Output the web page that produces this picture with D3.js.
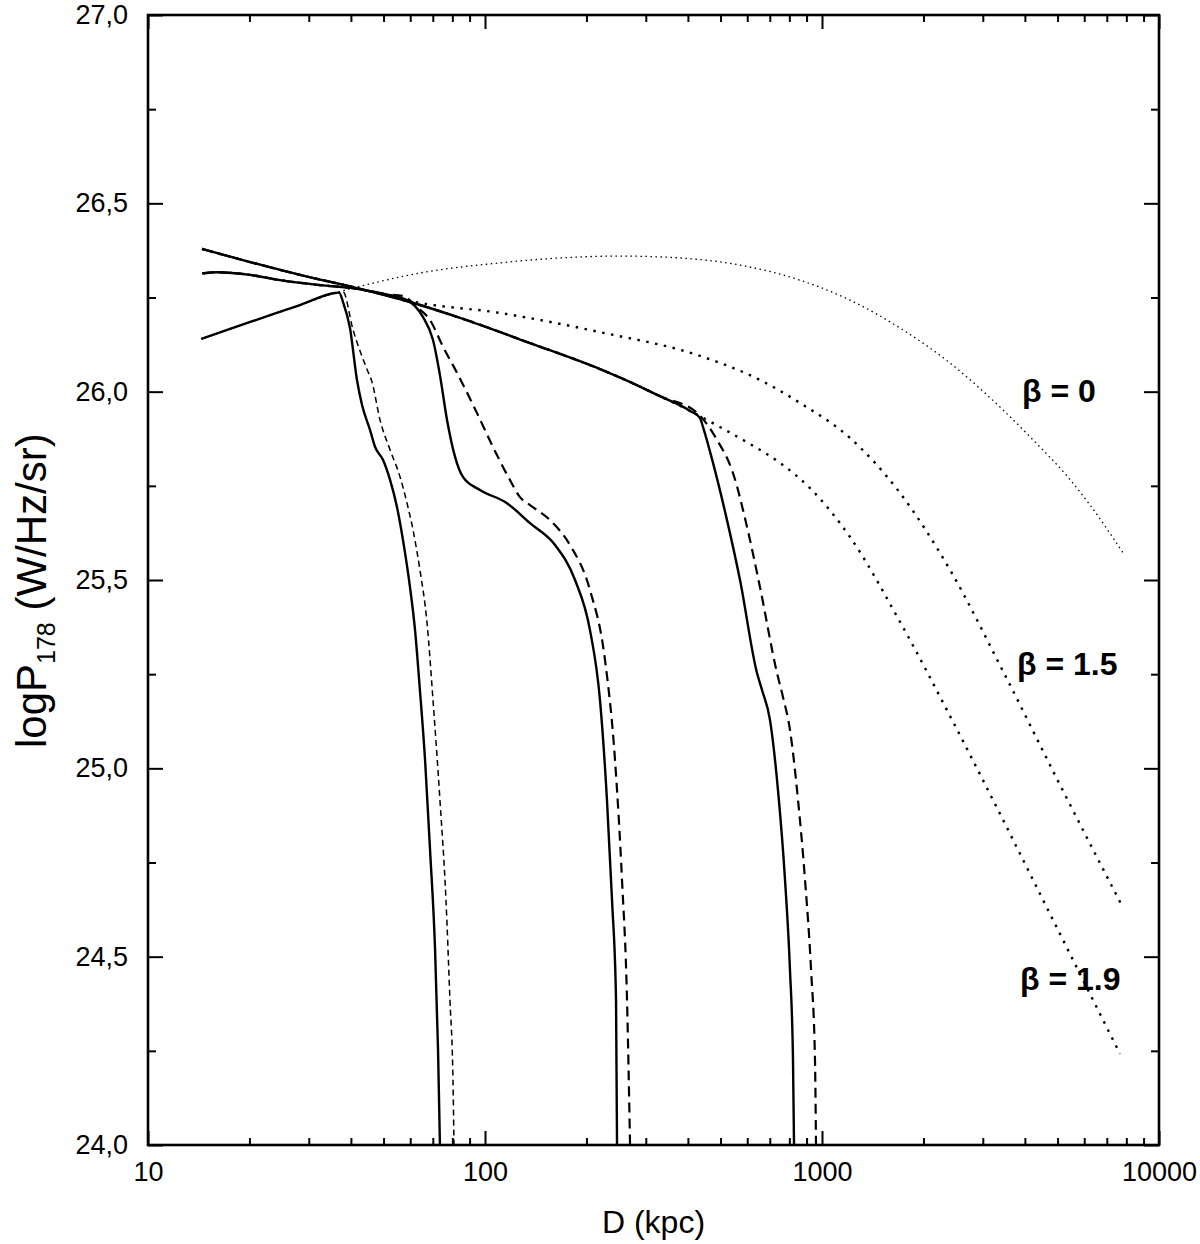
<!DOCTYPE html>
<html>
<head>
<meta charset="utf-8">
<script src="https://cdn.jsdelivr.net/npm/d3@7"></script>
<style>
  body { margin: 0; background: #fff; }
  svg text { font-family: "Liberation Sans", Arial, sans-serif; fill: #000; }
</style>
</head>
<body>
<svg width="1200" height="1244"></svg>
<script>
// Data: [D (kpc), logP178]
const b0Solid = [[14.4,26.14],[20.1,26.185],[28.25,26.23],[35.9,26.262],[36.9,26.263],[37.9,26.238],[39.75,26.169],[41.7,26.031],[43.15,25.965],[45.6,25.898],[47.2,25.853],[49.8,25.819],[52.3,25.765],[54.8,25.694],[57.1,25.606],[59.9,25.481],[62.0,25.367],[64.1,25.208],[66.4,25.022],[68.7,24.783],[71.1,24.518],[72.55,24.252],[73.5,24.0]];
const b0Dash = [[14.4,26.14],[20.1,26.185],[28.25,26.23],[35.9,26.262],[37.9,26.265],[40.6,26.164],[44.7,26.058],[46.2,26.026],[48.8,25.925],[52.3,25.845],[56.0,25.773],[58.7,25.704],[61.15,25.633],[64.1,25.527],[67.3,25.386],[70.1,25.181],[73.5,24.916],[76.6,24.65],[78.7,24.385],[80.35,24.173],[80.9,24.0]];
const b0Dot = [[14.4,26.14],[20.1,26.185],[28.25,26.23],[35.9,26.262],[39.75,26.273],[43.15,26.281],[64.1,26.315],[110.8,26.342],[167,26.355],[251.6,26.36],[378.9,26.355],[571.1,26.336],[860.6,26.296],[1211,26.243],[1704,26.169],[2398,26.076],[3375,25.959],[4228,25.872],[5333,25.776],[6243,25.699],[7821,25.572]];

const b15Solid = [[14.5,26.314],[16.0,26.317],[20.1,26.31],[24.65,26.296],[32.4,26.283],[41.7,26.273],[50.5,26.259],[58.7,26.243],[62.0,26.227],[65.5,26.198],[70.1,26.137],[73.5,26.044],[77.15,25.925],[81.5,25.827],[86.1,25.773],[96.65,25.739],[116.2,25.704],[136,25.651],[161.4,25.593],[185,25.5],[204.9,25.367],[219.4,25.181],[230.1,24.916],[238.2,24.65],[244.8,24.385],[246.5,24.0]];
const b15Dash = [[14.5,26.314],[16.0,26.317],[20.1,26.31],[24.65,26.296],[32.4,26.283],[41.7,26.273],[50.5,26.259],[57.1,26.254],[63.3,26.222],[68.7,26.19],[75.1,26.119],[82.6,26.05],[94.7,25.943],[105.6,25.853],[118.7,25.765],[127,25.72],[136,25.699],[155.9,25.659],[178.7,25.593],[204.9,25.473],[227,25.288],[243.1,25.022],[255,24.704],[263.9,24.385],[269.4,24.0]];
const b15Dot = [[14.5,26.314],[16.0,26.317],[20.1,26.31],[24.65,26.296],[32.4,26.283],[41.7,26.273],[50.5,26.259],[58.7,26.243],[110.8,26.209],[219.4,26.158],[434.5,26.095],[654.6,26.031],[860.6,25.97],[1211,25.877],[1704,25.731],[2398,25.527],[3444,25.258],[5084,24.956],[7767,24.635]];

const b19Solid = [[14.46,26.379],[20.1,26.344],[28.25,26.31],[41.7,26.275],[59.9,26.238],[84.3,26.196],[136,26.129],[219.4,26.06],[256.8,26.034],[330.6,25.988],[405.8,25.949],[434.5,25.93],[443.6,25.906],[474.9,25.811],[522.5,25.659],[571.1,25.5],[641.4,25.253],[663.7,25.208],[701,25.128],[740.3,24.942],[776.7,24.704],[803.5,24.465],[820.2,24.226],[826,24.0]];
const b19Dash = [[14.46,26.379],[20.1,26.344],[28.25,26.31],[41.7,26.275],[59.9,26.238],[84.3,26.196],[136,26.129],[219.4,26.06],[256.8,26.034],[330.6,25.988],[425.7,25.944],[488,25.872],[544.4,25.784],[599.1,25.641],[654.6,25.481],[735.4,25.253],[766.2,25.189],[803.5,25.102],[848.9,24.916],[890.5,24.704],[927.9,24.465],[953.2,24.226],[959.8,24.0]];
const b19Dot = [[14.46,26.379],[20.1,26.344],[28.25,26.31],[41.7,26.275],[59.9,26.238],[84.3,26.196],[136,26.129],[219.4,26.06],[256.8,26.034],[330.6,25.988],[405.8,25.949],[498.2,25.906],[611.5,25.861],[750.6,25.811],[921,25.744],[1211,25.614],[1704,25.389],[2398,25.139],[3375,24.879],[4228,24.704],[5830,24.454],[7661,24.242]];

const xMajor = [10, 100, 1000, 10000];
const yMajor = [24, 24.5, 25, 25.5, 26, 26.5, 27];
const yMinor = [24.25, 24.75, 25.25, 25.75, 26.25, 26.75];
const betaLabels = ["β = 0", "β = 1.5", "β = 1.9"];

// minor log ticks 2..9 per decade
const xMinor = [];
[10, 100, 1000].forEach(d => { for (let k = 2; k <= 9; k++) xMinor.push(d * k); });

const svg = d3.select("svg");
const plotL = 148, plotR = 1159, plotT = 15, plotB = 1145;

const x = d3.scaleLog().domain([10, 10000]).range([plotL, plotR]);
const y = d3.scaleLinear().domain([24, 27]).range([plotB, plotT]);

const commaFmt = d3.formatLocale({decimal: ",", thousands: ".", grouping: [3], currency: ["", ""]}).format(".1f");

svg.append("defs").append("clipPath").attr("id", "plot")
  .append("rect").attr("x", plotL).attr("y", plotT).attr("width", plotR - plotL).attr("height", plotB - plotT);

// lines
const line = d3.line()
  .x(d => x(d[0]))
  .y(d => y(d[1]))
  .curve(d3.curveMonotoneX);

const series = [
  {data: b0Dot,   width: 1.3, dash: "1.5,3.5"},
  {data: b15Dot,  width: 2.4, dash: "2.5,6.5"},
  {data: b19Dot,  width: 2.4, dash: "2.5,6.5"},
  {data: b0Dash,  width: 1.5, dash: "6,4"},
  {data: b15Dash, width: 2.2, dash: "10,6"},
  {data: b19Dash, width: 2.2, dash: "10,6"},
  {data: b0Solid,  width: 2.4, dash: null},
  {data: b15Solid, width: 2.4, dash: null},
  {data: b19Solid, width: 2.4, dash: null}
];

svg.append("g")
  .attr("clip-path", "url(#plot)")
  .selectAll("path")
  .data(series)
  .join("path")
  .attr("d", d => line(d.data))
  .attr("fill", "none")
  .attr("stroke", "#000")
  .attr("stroke-width", d => d.width)
  .attr("stroke-dasharray", d => d.dash);

// axes: ticks point inward, on all four sides
function styleAxis(g) {
  g.select(".domain").remove();
  g.attr("font-family", null).attr("font-size", null);
  g.selectAll(".tick line").attr("stroke", "#000").attr("stroke-width", 2);
  g.selectAll("text").style("font-size", "27px").attr("fill", "#000");
}

svg.append("g").attr("transform", `translate(0,${plotB})`)
  .call(d3.axisBottom(x).tickValues(xMajor).tickSize(-14).tickPadding(17).tickFormat(d3.format("d")))
  .call(styleAxis);
svg.append("g").attr("transform", `translate(0,${plotB})`)
  .call(d3.axisBottom(x).tickValues(xMinor).tickSize(-7).tickFormat(""))
  .call(styleAxis);
svg.append("g").attr("transform", `translate(0,${plotT})`)
  .call(d3.axisTop(x).tickValues(xMajor).tickSize(-14).tickFormat(""))
  .call(styleAxis);
svg.append("g").attr("transform", `translate(0,${plotT})`)
  .call(d3.axisTop(x).tickValues(xMinor).tickSize(-7).tickFormat(""))
  .call(styleAxis);

svg.append("g").attr("transform", `translate(${plotL},0)`)
  .call(d3.axisLeft(y).tickValues(yMajor).tickSize(-15).tickPadding(20).tickFormat(commaFmt))
  .call(styleAxis);
svg.append("g").attr("transform", `translate(${plotL},0)`)
  .call(d3.axisLeft(y).tickValues(yMinor).tickSize(-8).tickFormat(""))
  .call(styleAxis);
svg.append("g").attr("transform", `translate(${plotR},0)`)
  .call(d3.axisRight(y).tickValues(yMajor).tickSize(-15).tickFormat(""))
  .call(styleAxis);
svg.append("g").attr("transform", `translate(${plotR},0)`)
  .call(d3.axisRight(y).tickValues(yMinor).tickSize(-8).tickFormat(""))
  .call(styleAxis);

// frame
svg.append("rect")
  .attr("x", plotL).attr("y", plotT)
  .attr("width", plotR - plotL).attr("height", plotB - plotT)
  .attr("fill", "none").attr("stroke", "#000").attr("stroke-width", 2.6);

// axis titles
svg.append("text")
  .attr("x", (plotL + plotR) / 2)
  .attr("y", 1233)
  .attr("text-anchor", "middle")
  .style("font-size", "32px")
  .text("D (kpc)");

const yt = svg.append("text")
  .attr("transform", "translate(46,748) rotate(-90)")
  .attr("text-anchor", "start")
  .style("font-size", "42px");
yt.append("tspan").text("logP");
yt.append("tspan").attr("dy", 9).style("font-size", "25px").text("178");
yt.append("tspan").attr("dy", -9).text(" (W/Hz/sr)");

// beta annotations, placed in data coordinates
const labelPos = [[3922, 25.973], [3790, 25.248], [3868, 24.411]];
svg.append("g")
  .selectAll("text")
  .data(betaLabels)
  .join("text")
  .attr("x", (d, i) => x(labelPos[i][0]))
  .attr("y", (d, i) => y(labelPos[i][1]))
  .style("font-size", "32px")
  .style("font-weight", "bold")
  .text(d => d);
</script>
</body>
</html>
